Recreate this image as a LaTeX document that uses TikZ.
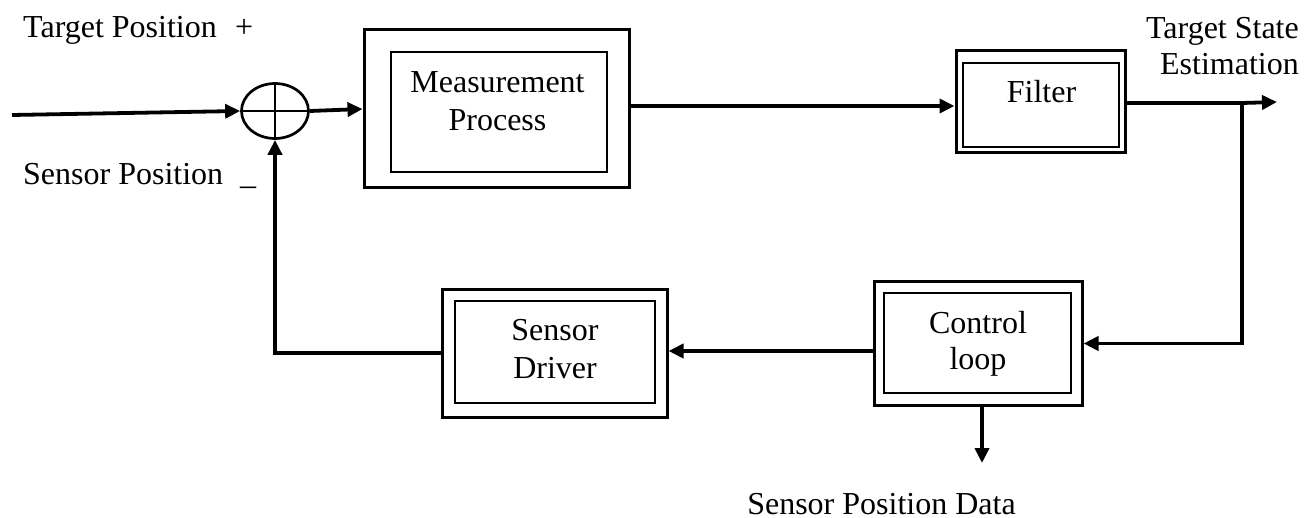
\documentclass[tikz,border=0pt]{standalone}
\usepackage{fontspec}
\setmainfont{Liberation Serif}
\usetikzlibrary{arrows.meta,shapes.geometric}

\tikzset{
  outerbox/.style={draw, line width=3pt, inner sep=0pt},
  innerbox/.style={draw, line width=1.5pt, inner sep=0pt},
  boxtext/.style={align=center, inner sep=0pt},
  plain/.style={inner sep=0pt},
  conn/.style={line width=3.8pt},
  arr/.style={-{Triangle[length=15pt,width=14pt]}},
  junction/.style={ellipse, draw, line width=2.7pt, minimum width=67pt, minimum height=55pt, inner sep=0pt}
}

\begin{document}
\begin{tikzpicture}[x=1pt, y=-1pt, font=\fontsize{32}{38}\selectfont]
\useasboundingbox (0,0) rectangle (1305,518);

% summing junction
\node[junction] (sum) at (275,111) {};
\draw[line width=2.7pt] (sum.west) -- (sum.east);
\draw[line width=2.7pt] (sum.north) -- (sum.south);

% measurement process block
\node[outerbox, minimum width=265pt, minimum height=158pt] (meas) at (496.5,109) {};
\node[innerbox, minimum width=216pt, minimum height=120pt] (measin) at (499,112) {};
\node[boxtext] (meastext) at (497.5,101.5) {Measurement\\Process};

% filter block
\node[outerbox, minimum width=169pt, minimum height=102pt] (filt) at (1040.5,102) {};
\node[innerbox, minimum width=156pt, minimum height=84pt] (filtin) at (1041,105) {};
\node[plain, anchor=base] (filttext) at (1041.5,103) {Filter};

% control loop block
\node[outerbox, minimum width=208pt, minimum height=123pt] (ctrl) at (978,343.5) {};
\node[innerbox, minimum width=187pt, minimum height=100pt] (ctrlin) at (977.5,343) {};
\node[boxtext, font=\fontsize{32}{36}\selectfont] (ctrltext) at (978,344) {Control\\loop};

% sensor driver block
\node[outerbox, minimum width=225pt, minimum height=127pt] (drv) at (554.5,353.5) {};
\node[innerbox, minimum width=200pt, minimum height=102pt] (drvin) at (555,352) {};
\node[boxtext] (drvtext) at (555,349) {Sensor\\Driver};

% signal labels
\node[plain, anchor=base west] (tpos) at (23,38) {Target Position};
\node[plain, anchor=base west] (plus) at (235,38) {+};
\node[plain, anchor=base west] (spos) at (23,185) {Sensor Position};
\node[plain, anchor=base west] (minus) at (240,185) {\_};
\node[boxtext, anchor=north east, font=\fontsize{32}{36}\selectfont] (tse) at (1299,17) {\hfill Target State\\\hfill Estimation};
\node[plain, anchor=base] (spd) at (881.5,514) {Sensor Position Data};

% free ends and branch point
\coordinate (inp) at (12,115);
\coordinate (outp) at (1277,102);
\coordinate (tap) at (1242,103);
\coordinate (spdout) at (982,463);

% connectors
\draw[conn, arr] (inp) -- (sum.west);
\draw[conn, arr] (sum.east) -- (meas.west);
\draw[conn, arr] (meas.east |- 0,106) -- (filt.west |- 0,106);
\draw[conn] (filt.east |- tap) -- (tap);
\draw[conn, arr] (tap) -- (outp);
\draw[conn, arr] (tap) |- (ctrl.east);
\draw[conn, arr] (ctrl.west |- 0,351) -- (drv.east |- 0,351);
\draw[conn, arr] (drv.west |- 0,353) -| (sum.south);
\draw[conn, arr] (ctrl.south -| spdout) -- (spdout);
\end{tikzpicture}
\end{document}
